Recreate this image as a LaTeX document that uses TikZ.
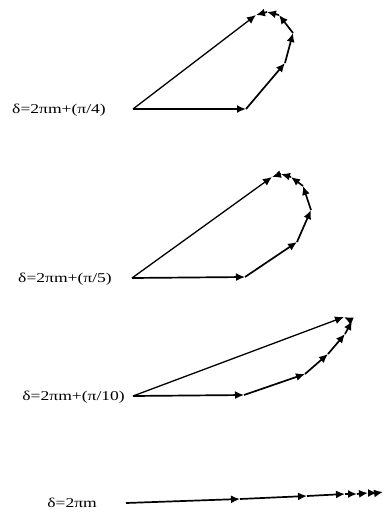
\documentclass[tikz,border=0pt]{standalone}
\usepackage{fontspec}
\setmainfont{Liberation Serif}
\newfontfamily\deltafont[FakeStretch=1.3]{Liberation Serif}
\usetikzlibrary{arrows.meta}

\begin{document}
\begin{tikzpicture}[x=1pt, y=-1pt,
  phasor/.style={-{Latex[length=9pt, width=8pt]}, line width=1.7pt, black},
  resultant/.style={-{Latex[length=9pt, width=8pt]}, line width=1.3pt, black},
  delta/.style={font=\deltafont\fontsize{13.5}{15}\selectfont, anchor=east, inner sep=0pt}
]
  \useasboundingbox (0,0) rectangle (387,514);

  % delta = 2 pi m + pi/4
  \node[delta] (l1) at (106,110) {δ=2πm+(π/4)};
  \coordinate (a0) at (133,109);
  \coordinate (a1) at (246,109);
  \coordinate (a2) at (285,63);
  \coordinate (a3) at (293,33);
  \coordinate (a4) at (279,15);
  \coordinate (a5) at (267,12);
  \coordinate (a6) at (256,15);
  \foreach \i [count=\j from 1] in {0,...,5}
    \draw[phasor] (a\i) -- (a\j);
  \draw[resultant] (a0) -- (a6);

  % delta = 2 pi m + pi/5
  \node[delta] (l2) at (112,279) {δ=2πm+(π/5)};
  \coordinate (b0) at (132,278);
  \coordinate (b1) at (245,277);
  \coordinate (b2) at (297,242);
  \coordinate (b3) at (311,210);
  \coordinate (b4) at (303,186);
  \coordinate (b5) at (291,177);
  \coordinate (b6) at (281,174);
  \coordinate (b7) at (272,177);
  \foreach \i [count=\j from 1] in {0,...,6}
    \draw[phasor] (b\i) -- (b\j);
  \draw[resultant] (b0) -- (b7);

  % delta = 2 pi m + pi/10
  \node[delta] (l3) at (125,397) {δ=2πm+(π/10)};
  \coordinate (c0) at (133,396);
  \coordinate (c1) at (244,395);
  \coordinate (c2) at (305,374);
  \coordinate (c3) at (328,354);
  \coordinate (c4) at (345,334);
  \coordinate (c5) at (352,321);
  \coordinate (c6) at (344,317);
  \foreach \i [count=\j from 1] in {0,...,5}
    \draw[phasor] (c\i) -- (c\j);
  \draw[resultant] (c0) -- (c6);

  % delta = 2 pi m
  \node[delta] (l4) at (97,503) {δ=2πm};
  \coordinate (d0) at (126,503);
  \coordinate (d1) at (240,499);
  \coordinate (d2) at (307,496);
  \coordinate (d3) at (345,494);
  \coordinate (d4) at (357,494);
  \coordinate (d5) at (368,493);
  \coordinate (d6) at (377,493);
  \coordinate (d7) at (383,492);
  \foreach \i [count=\j from 1] in {0,...,6}
    \draw[phasor] (d\i) -- (d\j);
\end{tikzpicture}
\end{document}
